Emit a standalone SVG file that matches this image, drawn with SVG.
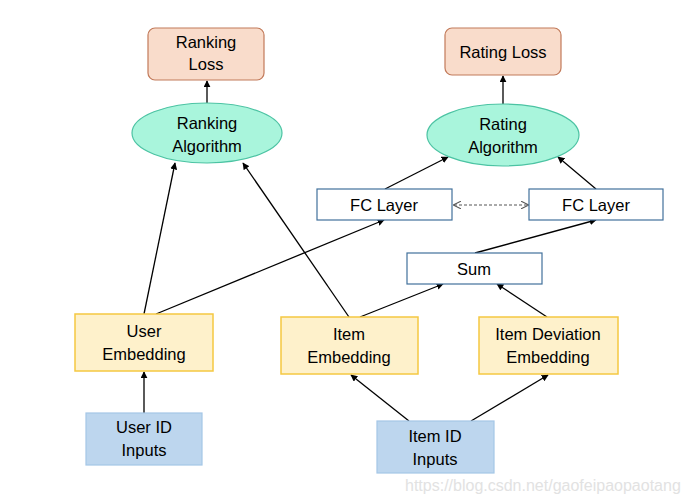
<svg xmlns="http://www.w3.org/2000/svg" width="687" height="501" viewBox="0 0 687 501">
<defs>
<marker id="ah" viewBox="0 0 10 10" refX="9" refY="5" markerWidth="7" markerHeight="7" orient="auto" markerUnits="userSpaceOnUse">
<path d="M0,0 L10,5 L0,10 z" fill="#000"/>
</marker>
<marker id="oh" viewBox="0 0 10 10" refX="9" refY="5" markerWidth="8" markerHeight="8" orient="auto-start-reverse" markerUnits="userSpaceOnUse">
<path d="M0,0 L10,5 L0,10" fill="none" stroke="#555" stroke-width="1.3"/>
</marker>
</defs>
<style>
text{font-family:"Liberation Sans",Arial,sans-serif;font-size:16.5px;fill:#000;text-anchor:middle}
.loss{fill:#f9dccb;stroke:#c27a5a;stroke-width:1.2}
.alg{fill:#a9f5dc;stroke:#4cc3a3;stroke-width:1.2}
.emb{fill:#fef1cb;stroke:#f5c842;stroke-width:1.5}
.inp{fill:#bdd6ee;stroke:#a4c6e6;stroke-width:1.2}
.fc{fill:#fff;stroke:#41719c;stroke-width:1.2}
.c{stroke:#000;stroke-width:1.3;fill:none;marker-end:url(#ah)}
.wm{font-size:16px;fill:#e2e2e2;text-anchor:start}
</style>
<rect width="687" height="501" fill="#fff"/>
<g id="connectors">
<line class="c" x1="207" y1="103" x2="207" y2="81"/>
<line class="c" x1="503" y1="104" x2="503" y2="76"/>
<line class="c" x1="144" y1="314" x2="175" y2="163"/>
<line class="c" x1="156" y1="314" x2="384" y2="220"/>
<line class="c" x1="349" y1="317" x2="243" y2="163"/>
<line class="c" x1="360" y1="317" x2="443" y2="284"/>
<line class="c" x1="547" y1="317" x2="497" y2="284"/>
<line class="c" x1="475" y1="253" x2="596" y2="220"/>
<line class="c" x1="385" y1="189" x2="448" y2="157"/>
<line class="c" x1="596" y1="189" x2="558" y2="157"/>
<line class="c" x1="144" y1="413" x2="144" y2="372"/>
<line class="c" x1="409" y1="421" x2="351" y2="375"/>
<line class="c" x1="471" y1="421" x2="548" y2="375"/>
<line x1="454" y1="205" x2="528" y2="205" stroke="#555" stroke-width="1" stroke-dasharray="3,2" marker-start="url(#oh)" marker-end="url(#oh)"/>
</g>
<g id="ranking-loss"><rect class="loss" x="148" y="28" width="116" height="52" rx="7"/><text x="206" y="48">Ranking</text><text x="206" y="70">Loss</text></g>
<g id="rating-loss"><rect class="loss" x="445" y="28" width="116" height="47" rx="7"/><text x="503" y="58">Rating Loss</text></g>
<g id="ranking-algorithm"><ellipse class="alg" cx="207" cy="133" rx="75" ry="30"/><text x="207" y="129">Ranking</text><text x="207" y="152">Algorithm</text></g>
<g id="rating-algorithm"><ellipse class="alg" cx="503" cy="135" rx="76" ry="31"/><text x="503" y="130">Rating</text><text x="503" y="153">Algorithm</text></g>
<g id="fc-left"><rect class="fc" x="317" y="189" width="135" height="31"/><text x="384" y="211">FC Layer</text></g>
<g id="fc-right"><rect class="fc" x="529" y="189" width="134" height="31"/><text x="596" y="211">FC Layer</text></g>
<g id="sum"><rect class="fc" x="407" y="253" width="135" height="31"/><text x="474" y="275">Sum</text></g>
<g id="user-embedding"><rect class="emb" x="75" y="314" width="138" height="57"/><text x="144" y="337">User</text><text x="144" y="360">Embedding</text></g>
<g id="item-embedding"><rect class="emb" x="281" y="317" width="137" height="57"/><text x="349" y="340">Item</text><text x="349" y="363">Embedding</text></g>
<g id="item-deviation-embedding"><rect class="emb" x="479" y="317" width="139" height="57"/><text x="548" y="340">Item Deviation</text><text x="548" y="363">Embedding</text></g>
<g id="user-id-inputs"><rect class="inp" x="86" y="413" width="116" height="52"/><text x="144" y="433">User ID</text><text x="144" y="456">Inputs</text></g>
<g id="item-id-inputs"><rect class="inp" x="377" y="421" width="117" height="52"/><text x="435" y="442">Item ID</text><text x="435" y="465">Inputs</text></g>
<text class="wm" x="405" y="491">https://blog.csdn.net/gaofeipaopaotang</text>
</svg>
